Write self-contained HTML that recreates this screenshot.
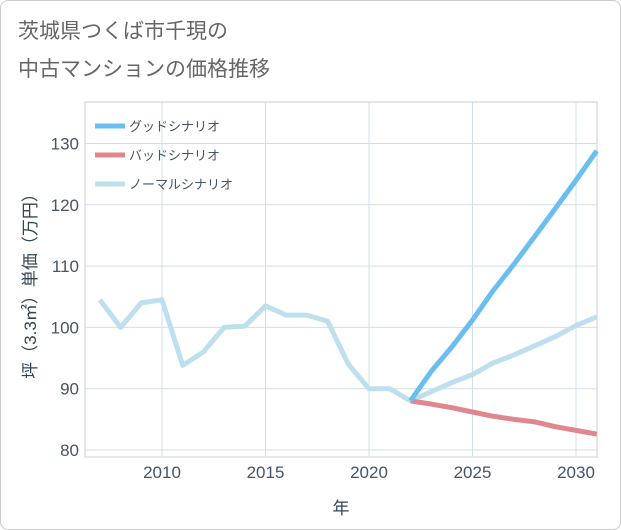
<!DOCTYPE html>
<html><head><meta charset="utf-8">
<style>
body{margin:0;background:#fff;}
#wrap{position:relative;width:619px;height:528px;border:1px solid #ccc;border-radius:8px;background:#fff;overflow:hidden;font-family:"Liberation Sans","Noto Sans CJK JP",sans-serif;}
.title{position:absolute;left:17px;font-size:21px;color:#666;}
</style></head>
<body>
<div id="wrap">
<div class="title" style="top:14px">茨城県つくば市千現の</div>
<div class="title" style="top:52px">中古マンションの価格推移</div>
<svg id="chart" width="621" height="530" style="position:absolute;left:-1px;top:-1px"></svg>
</div>
<script>
const years=[2007,2008,2009,2010,2011,2012,2013,2014,2015,2016,2017,2018,2019,2020,2021,2022];
const normalHist=[104.5,100,104,104.5,93.8,96,100,100.2,103.5,102,102,101,94,90,90,88];
const forecastYears=[2022,2023,2024,2025,2026,2027,2028,2029,2030,2031];
const goodVals=[88,92.8,96.8,101.2,106,110.3,114.8,119.4,124,128.8];
const badVals=[88,87.5,86.9,86.2,85.5,85,84.6,83.8,83.2,82.6];
const normalVals=[88,89.5,91,92.3,94.2,95.5,97,98.5,100.3,101.7];
const xTicks=[2010,2015,2020,2025,2030];
const yTicks=[80,90,100,110,120,130];

const svg=document.getElementById('chart');
const NS='http://www.w3.org/2000/svg';
const L=85,R=597,T=102,B=457;
const x=v=>162+(v-2010)*20.7;
const y=v=>450-(v-80)*6.13;
function mk(tag,attrs){const e=document.createElementNS(NS,tag);for(const k in attrs)e.setAttribute(k,attrs[k]);svg.appendChild(e);return e;}

let bg=mk('rect',{x:L,y:T,width:R-L,height:B-T,fill:'#fff',stroke:'#ccc'});


for(const t of yTicks){
  let g=mk('line',{x1:L,x2:R,y1:y(t),y2:y(t),stroke:'#cfe0ec'});
  
  
  let tx=mk('text',{x:L-6,y:y(t)+6,'text-anchor':'end','font-size':'17',fill:'#456'});
  tx.textContent=t;
  
  
}
for(const t of xTicks){
  let g=mk('line',{x1:x(t),x2:x(t),y1:T,y2:B,stroke:'#cfe0ec'});
  
  
  let tx=mk('text',{x:x(t),y:B+21,'text-anchor':'middle','font-size':'17',fill:'#456'});
  tx.textContent=t;
  
  
}
let xt=mk('text',{x:341,y:514,'text-anchor':'middle','font-size':'17',fill:'#345'});
xt.textContent='年';


let yt=mk('text',{x:0,y:0,'text-anchor':'middle','font-size':'17',fill:'#345',transform:'translate(36,282) rotate(-90)'});
yt.textContent='坪（3.3㎡）単価（万円）';



function line(xs,vs,color,name){
  const p=xs.map((v,i)=>(i?'L':'M')+x(v)+','+y(vs[i])).join(' ');
  let e=mk('path',{d:p,fill:'none',stroke:color,'stroke-width':'5','stroke-linejoin':'round'});
  
  
}
line(years,normalHist,'#bddfee','normal-history-line');
line(forecastYears,normalVals,'#bddfee','normal-scenario-line');
line(forecastYears,badVals,'#e0868e','bad-scenario-line');
line(forecastYears,goodVals,'#6bbef0','good-scenario-line');

const legend=[['グッドシナリオ','#6bbef0'],['バッドシナリオ','#e0868e'],['ノーマルシナリオ','#bddfee']];
legend.forEach((l,i)=>{
  const ly=126+i*29;
  let s=mk('line',{x1:95,x2:125,y1:ly,y2:ly,stroke:l[1],'stroke-width':'5'});
  
  
  let t=mk('text',{x:129,y:ly+5,'font-size':'13',fill:'#456'});
  t.textContent=l[0];
  
  
});
</script>
</body></html>
